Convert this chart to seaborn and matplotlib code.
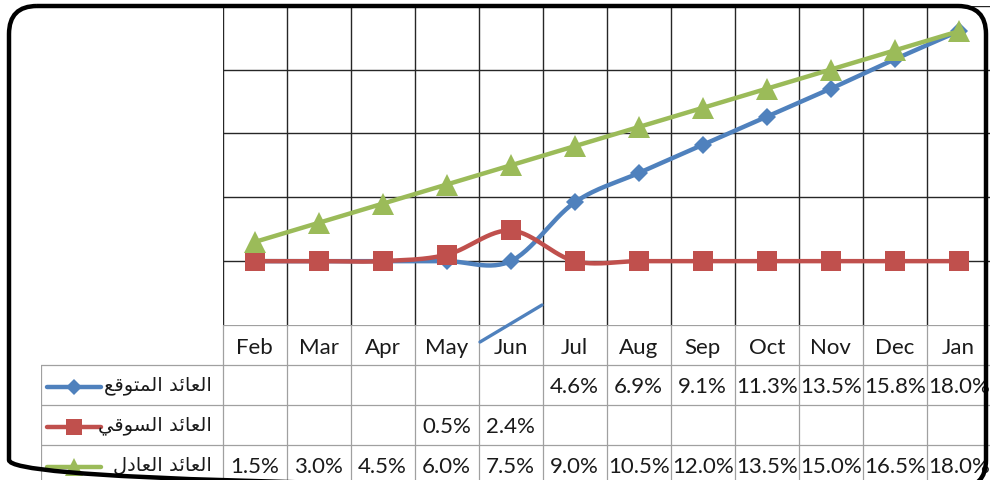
import numpy as np
import pandas as pd
import matplotlib
matplotlib.use("Agg")
import matplotlib.pyplot as plt
import matplotlib.transforms as mtransforms
from matplotlib.patches import FancyBboxPatch
from matplotlib.lines import Line2D
import seaborn as sns

# ---- data ----
months = ['Feb', 'Mar', 'Apr', 'May', 'Jun', 'Jul', 'Aug', 'Sep', 'Oct', 'Nov', 'Dec', 'Jan']
expected = [np.nan, np.nan, np.nan, np.nan, np.nan, 4.6, 6.9, 9.1, 11.3, 13.5, 15.8, 18.0]
market = [np.nan, np.nan, np.nan, 0.5, 2.4, np.nan, np.nan, np.nan, np.nan, np.nan, np.nan, np.nan]
fair = [1.5, 3.0, 4.5, 6.0, 7.5, 9.0, 10.5, 12.0, 13.5, 15.0, 16.5, 18.0]
series_names = ['العائد المتوقع', 'العائد السوقي', 'العائد العادل']
y_ticks = [-5, 0, 5, 10, 15, 20]

BLUE, RED, GREEN = '#4F81BD', '#C0504D', '#9BBB59'
W, H = 990, 481

sns.set_theme(style='white')
plt.rcParams['font.family'] = ['Lato', 'DejaVu Sans']

# Arabic shaping (matplotlib has no complex text layout)
FORMS = {
    'ا': (0xFE8D, 0xFE8E, None, None), 'د': (0xFEA9, 0xFEAA, None, None),
    'و': (0xFEED, 0xFEEE, None, None), 'ل': (0xFEDD, 0xFEDE, 0xFEDF, 0xFEE0),
    'ع': (0xFEC9, 0xFECA, 0xFECB, 0xFECC), 'ئ': (0xFE89, 0xFE8A, 0xFE8B, 0xFE8C),
    'م': (0xFEE1, 0xFEE2, 0xFEE3, 0xFEE4), 'ت': (0xFE95, 0xFE96, 0xFE97, 0xFE98),
    'ق': (0xFED5, 0xFED6, 0xFED7, 0xFED8), 'س': (0xFEB1, 0xFEB2, 0xFEB3, 0xFEB4),
    'ي': (0xFEF1, 0xFEF2, 0xFEF3, 0xFEF4),
}


def shape_ar(s):
    out = []
    for i, c in enumerate(s):
        if c not in FORMS:
            out.append(c)
            continue
        p = s[i - 1] if i > 0 else None
        n = s[i + 1] if i + 1 < len(s) else None
        jp = p in FORMS and FORMS[p][2] is not None
        jn = FORMS[c][2] is not None and n in FORMS
        iso, fin, ini, med = FORMS[c]
        out.append(chr(med if jp and jn else fin if jp else ini if jn else iso))
    return ''.join(out)[::-1]


def smooth(xs, ys, n=30):
    # Excel-style smoothed line (Catmull-Rom as cubic Bezier)
    px, py = [], []
    m = len(xs)
    for i in range(m - 1):
        x0, y0 = xs[max(i - 1, 0)], ys[max(i - 1, 0)]
        x1, y1 = xs[i], ys[i]
        x2, y2 = xs[i + 1], ys[i + 1]
        x3, y3 = xs[min(i + 2, m - 1)], ys[min(i + 2, m - 1)]
        c1 = (x1 + (x2 - x0) / 6, y1 + (y2 - y0) / 6)
        c2 = (x2 - (x3 - x1) / 6, y2 - (y3 - y1) / 6)
        t = np.linspace(0, 1, n)
        a, b, c, d = (1 - t) ** 3, 3 * t * (1 - t) ** 2, 3 * t ** 2 * (1 - t), t ** 3
        px.extend(a * x1 + b * c1[0] + c * c2[0] + d * x2)
        py.extend(a * y1 + b * c1[1] + c * c2[1] + d * y2)
    return np.array(px), np.array(py)


fig = plt.figure(figsize=(W / 100, H / 100), dpi=100)
fig.patch.set_facecolor('white')

# pixel helpers (y measured from the top)
PLOT_L, PLOT_T, PLOT_B, COL_W = 222.7, 6.7, 326.0, 64.0
PLOT_R = PLOT_L + 12 * COL_W
ax = fig.add_axes([PLOT_L / W, 1 - PLOT_B / H, (PLOT_R - PLOT_L) / W, (PLOT_B - PLOT_T) / H])

xs = np.arange(len(months))
for b in np.arange(-0.5, 12, 1):
    ax.axvline(b, color='#262626', lw=1.0, zorder=1)
for yt in y_ticks[1:]:
    ax.axhline(yt, color='#262626', lw=1.0, zorder=1)

LW = 3.2
styles = [(expected, BLUE, 'D', 9.6), (market, RED, 's', 14.5), (fair, GREEN, '^', 16.5)]
for k, (vals, col, mk, ms) in enumerate(styles):
    yv = np.nan_to_num(np.array(vals, dtype=float), nan=0.0)  # empty cells shown as zero
    sx, sy = smooth(xs.astype(float), yv)
    df = pd.DataFrame({'x': sx, 'y': sy})
    sns.lineplot(data=df, x='x', y='y', sort=False, color=col, lw=LW, ax=ax,
                 zorder=3 + 2 * k, legend=False)
    ax.plot(xs, yv, ls='none', marker=mk, ms=ms, mfc=col, mec=col, mew=0, zorder=4 + 2 * k)
ax.set_xlim(-0.5, 11.5)
ax.set_ylim(-5, 20)
ax.axis('off')

# ---- data table ----
TAB_L = 41.0
x_left = -0.5 + (TAB_L - PLOT_L) / COL_W
tax = fig.add_axes([TAB_L / W, 1 - (PLOT_B + 160) / H, (PLOT_R - TAB_L) / W, 160 / H])
tax.set_xlim(x_left, 11.5)
tax.set_ylim(160, 0)
tax.axis('off')
GREY = '#A0A0A0'
for b in np.arange(-0.5, 12, 1):
    tax.plot([b, b], [0, 160], color=GREY, lw=0.9, clip_on=False)
tax.plot([x_left, x_left], [40, 160], color=GREY, lw=0.9)
tax.plot([-0.5, 11.5], [0, 0], color=GREY, lw=0.9)
for yy in (40, 80, 120):
    tax.plot([x_left, 11.5], [yy, yy], color=GREY, lw=0.9)

TXT = '#1a1a1a'
for i, m in enumerate(months):
    tax.text(i, 28, m, ha='center', va='baseline', fontsize=16, color=TXT)

col_px = lambda p: -0.5 + (p - PLOT_L) / COL_W
for r, (vals, col, mk, ms) in enumerate(styles):
    top = 40 * (r + 1)
    for i, v in enumerate(vals):
        if not np.isnan(v):
            tax.text(i, top + 27, f'{v:.1f}%', ha='center', va='baseline', fontsize=16, color=TXT)
    ly = top + 22
    tax.plot([col_px(47), col_px(101)], [ly, ly], color=col, lw=LW, solid_capstyle='round')
    tax.plot([col_px(74)], [ly], ls='none', marker=mk, ms=ms * 0.8, mfc=col, mew=0)
    tax.text(col_px(212), top + 24, shape_ar(series_names[r]), ha='right', va='baseline',
             fontsize=14, color=TXT, family='DejaVu Sans')

# stray connector stroke seen in the reference
pxf = mtransforms.Affine2D().scale(1, -1).translate(0, H).scale(1 / W, 1 / H) + fig.transFigure
fig.add_artist(Line2D([480, 542], [343, 306], color=BLUE, lw=2.4, transform=pxf))

# rounded chart-area border (bottom edge falls just outside the image)
fig.add_artist(FancyBboxPatch((9, 7), 977, 482, boxstyle='round,pad=0,rounding_size=28',
                              transform=pxf, fill=False, ec='black', lw=3.2))

fig.savefig('out.png', dpi=100, facecolor='white')
